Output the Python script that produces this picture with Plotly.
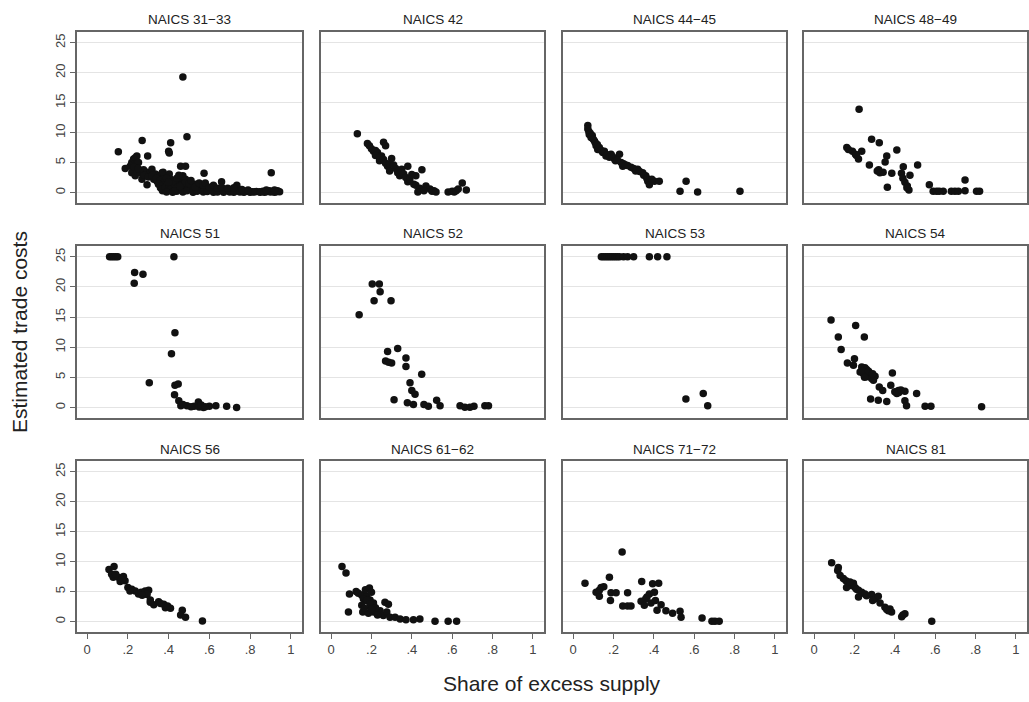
import plotly.graph_objects as go

W, H = 1029, 702

titles = ["NAICS 31\u221233", "NAICS 42", "NAICS 44\u221245", "NAICS 48\u221249",
          "NAICS 51", "NAICS 52", "NAICS 53", "NAICS 54",
          "NAICS 56", "NAICS 61\u221262", "NAICS 71\u221272", "NAICS 81"]

x_31_33 = [0.153,0.47,0.27,0.41,0.40,0.403,0.49,0.297,0.459,0.483,0.574,0.904,0.66,0.735,0.187,
           0.211,0.219,0.228,0.236,0.244,0.252,0.219,0.236,0.244,0.26,0.277,0.294,0.31,0.318,0.335,0.351,0.368,0.376,0.269,0.294,0.327,0.343,0.373,0.403,0.41,0.23,0.25,0.28,0.30,0.32,0.34,0.36,0.38,0.39,0.35,0.36,0.37,0.38,
           0.36,0.368,0.384,0.401,0.417,0.409,0.434,0.45,0.467,0.475,0.483,0.459,0.492,0.508,0.516,0.533,0.55,0.566,0.582,0.599,0.616,0.632,0.649,0.665,0.681,0.698,0.714,0.731,0.747,0.764,0.78,0.797,0.813,0.83,0.846,0.863,0.879,0.896,0.912,0.929,0.945,
           0.39,0.42,0.44,0.47,0.49,0.52,0.54,0.57,0.59,0.62,0.64,0.67,0.70,0.72,0.75,0.77,0.80,0.82,0.85,0.87,0.90,0.92,0.935,
           0.42,0.44,0.46,0.47,0.48,0.50,0.51,0.53,0.55,0.57,0.58,0.60,0.62,0.64,0.66,0.69,0.72,0.76,0.79,0.88,0.92,0.45,0.43,0.40,0.455]
y_31_33 = [6.8,19.3,8.7,8.3,6.9,6.6,9.3,6.1,4.4,4.4,3.2,3.3,1.8,1.2,4.0,
           4.4,5.0,5.6,5.8,6.1,5.0,3.3,2.8,3.6,3.3,3.8,3.4,3.3,3.9,3.1,2.8,3.3,2.5,2.2,1.3,2.2,1.9,3.4,3.1,2.2,4.2,4.0,2.9,2.6,2.9,2.4,2.0,1.8,2.4,1.4,0.8,0.3,1.3,
           1.1,0.56,0.83,1.1,1.4,0.56,1.1,1.7,1.9,1.4,2.2,0.56,0.83,0.56,1.1,1.4,0.83,0.56,1.1,0.56,0.83,0.44,0.56,0.28,0.44,0.28,0.56,0.28,0.28,0.17,0.22,0.17,0.11,0.17,0.11,0.22,0.11,0.28,0.17,0.11,0.11,
           0.1,0.05,0.2,0.1,0.3,0.05,0.2,0.1,0.15,0.05,0.1,0.05,0.1,0.05,0.1,0.05,0.05,0.1,0.05,0.05,0.1,0.05,0.3,
           1.8,2.4,1.2,2.8,1.6,1.5,2.0,0.9,1.6,1.2,1.6,0.9,1.2,0.7,0.9,0.7,0.8,0.5,0.4,0.4,0.4,2.9,0.3,1.7,1.0]

x_42 = [0.13,0.18,0.19,0.26,0.27,0.21,0.23,0.25,0.30,0.24,0.28,0.29,0.32,0.35,0.38,0.45,0.42,0.34,0.38,0.41,0.44,0.43,0.47,0.49,0.51,0.58,0.60,0.63,0.65,0.67,
        0.20,0.22,0.22,0.24,0.26,0.27,0.29,0.31,0.33,0.36,0.37,0.39,0.40,0.42,0.46,0.50,0.52,0.61,0.62]
y_42 = [9.8,8.2,7.8,8.4,7.8,6.9,6.7,6.1,5.7,5.3,4.4,3.6,4.0,3.9,4.4,3.8,2.8,2.8,1.8,1.4,0.7,0.1,1.1,0.6,0.3,0.1,0.2,0.6,1.6,0.4,
        7.3,7.0,6.2,5.8,5.5,4.9,4.8,4.6,3.3,3.1,2.5,2.2,3.0,1.2,0.3,0.2,0.1,0.1,0.3]

x_44_45 = [0.073,0.073,0.08,0.089,0.106,0.114,0.122,0.147,0.163,0.188,0.23,0.205,0.238,0.246,0.287,0.32,0.345,0.36,0.37,0.378,0.403,0.427,0.56,0.53,0.617,0.827,
           0.078,0.085,0.095,0.10,0.11,0.12,0.13,0.14,0.155,0.17,0.18,0.195,0.21,0.22,0.25,0.26,0.27,0.30,0.31,0.33,0.35,0.365,0.39]
y_44_45 = [11.2,10.6,9.7,9.2,8.6,7.8,7.2,6.7,6.1,6.4,6.4,5.6,5.0,4.4,4.2,3.9,3.3,2.8,1.9,1.3,1.9,1.9,1.9,0.2,0.1,0.2,
           10.2,9.9,9.5,8.9,8.3,8.0,7.5,7.0,6.9,6.3,5.9,6.0,5.3,5.4,4.8,4.6,4.5,4.0,3.6,3.5,2.9,2.4,2.2]

x_48_49 = [0.223,0.285,0.323,0.41,0.162,0.19,0.205,0.22,0.236,0.36,0.352,0.274,0.313,0.326,0.342,0.385,0.442,0.513,0.433,0.475,0.45,0.462,0.47,0.363,0.571,0.59,0.607,0.64,0.68,0.698,0.715,0.748,0.748,0.805,0.82,
           0.17,0.21,0.32,0.44,0.46,0.62]
y_48_49 = [13.9,8.9,8.3,7.1,7.5,6.9,6.4,5.6,6.9,6.1,5.1,4.6,3.6,3.3,3.4,3.2,4.3,4.6,3.2,2.9,1.7,1.1,0.4,0.9,1.3,0.2,0.2,0.2,0.2,0.2,0.2,2.1,0.3,0.2,0.2,
           7.2,6.2,3.8,2.4,0.8,0.2]

x_51 = [0.11,0.12,0.13,0.14,0.15,0.426,0.233,0.274,0.231,0.431,0.414,0.305,0.431,0.447,0.429,0.45,0.46,0.49,0.525,0.546,0.55,0.571,0.60,0.632,0.685,0.734,0.47,0.51,0.56,0.58]
y_51 = [25,25,25,25,25,25,22.4,22.1,20.6,12.4,8.9,4.1,3.7,3.9,2.1,1.1,0.3,0.3,0.2,0.9,0.06,0.0,0.2,0.3,0.2,0.0,0.5,0.1,0.4,0.1]

x_52 = [0.204,0.239,0.243,0.213,0.297,0.139,0.28,0.33,0.371,0.27,0.30,0.371,0.449,0.391,0.40,0.416,0.312,0.378,0.408,0.46,0.482,0.523,0.54,0.639,0.663,0.688,0.708,0.762,0.78,0.285]
y_52 = [20.5,20.5,19.2,17.7,17.7,15.4,9.3,9.8,8.2,7.7,7.4,6.8,5.5,4.1,2.8,2.2,1.3,0.8,0.5,0.5,0.2,1.2,0.3,0.3,0.05,0.05,0.2,0.3,0.3,7.5]

x_53 = [0.14,0.15,0.16,0.17,0.18,0.19,0.20,0.21,0.22,0.23,0.25,0.27,0.30,0.378,0.419,0.465,0.559,0.645,0.667]
y_53 = [25,25,25,25,25,25,25,25,25,25,25,25,25,25,25,25,1.4,2.3,0.3]

x_54 = [0.084,0.206,0.12,0.249,0.134,0.2,0.165,0.195,0.236,0.252,0.26,0.228,0.244,0.269,0.285,0.302,0.26,0.285,0.294,0.388,0.323,0.34,0.38,0.40,0.418,0.41,0.45,0.508,0.28,0.318,0.36,0.45,0.458,0.55,0.579,0.83,
        0.24,0.27,0.29,0.25,0.42,0.43]
y_54 = [14.5,13.6,11.7,11.7,9.6,8.1,7.4,7.0,6.7,6.6,6.3,5.9,5.6,5.6,5.3,5.2,5.1,4.8,4.5,5.7,3.4,2.8,3.7,2.6,2.8,2.3,2.7,2.3,1.4,1.2,1.0,1.1,0.3,0.2,0.2,0.1,
        6.0,6.0,5.6,5.0,2.5,2.9]

x_56 = [0.107,0.132,0.12,0.128,0.153,0.178,0.162,0.186,0.2,0.219,0.236,0.252,0.265,0.285,0.302,0.294,0.31,0.327,0.351,0.376,0.384,0.409,0.467,0.459,0.483,0.566,
        0.14,0.17,0.21,0.27,0.31,0.36,0.395]
y_56 = [8.7,9.2,7.9,7.4,7.4,7.5,6.7,6.8,5.7,5.4,5.1,4.6,4.9,5.1,5.2,4.5,3.2,2.8,3.3,2.9,2.3,2.2,1.9,1.1,0.7,0.1,
        7.9,7.0,5.1,4.4,3.6,3.0,2.6]

x_61_62 = [0.054,0.074,0.091,0.086,0.124,0.135,0.152,0.177,0.193,0.21,0.16,0.176,0.193,0.152,0.157,0.185,0.21,0.243,0.259,0.276,0.292,0.317,0.342,0.371,0.408,0.44,0.515,0.58,0.622,0.267,0.284,
           0.17,0.19,0.20,0.22,0.23,0.165,0.2]
y_61_62 = [9.2,8.1,4.6,1.6,5.0,4.7,4.4,4.2,3.6,3.1,3.8,3.5,2.9,2.7,1.6,1.4,1.6,1.8,1.0,1.6,0.7,0.7,0.4,0.3,0.3,0.4,0.06,0.06,0.06,3.2,2.9,
           5.3,5.6,4.9,2.3,1.1,2.2,2.1]

x_71_72 = [0.059,0.18,0.243,0.114,0.13,0.139,0.152,0.188,0.213,0.185,0.246,0.27,0.287,0.27,0.34,0.394,0.424,0.337,0.353,0.366,0.378,0.386,0.403,0.408,0.436,0.416,0.46,0.493,0.53,0.535,0.639,0.688,0.703,0.724,
           0.13,0.36]
y_71_72 = [6.4,7.4,11.6,4.9,4.2,5.7,5.8,4.8,4.8,3.5,2.6,2.6,2.6,4.8,6.7,6.3,6.4,3.4,2.7,4.1,4.6,3.1,4.9,3.5,2.8,1.9,1.8,1.4,1.7,0.7,0.6,0.06,0.06,0.06,
           5.2,3.8]

x_81 = [0.087,0.117,0.129,0.145,0.158,0.17,0.183,0.195,0.203,0.22,0.236,0.252,0.22,0.285,0.302,0.318,0.327,0.351,0.368,0.376,0.384,0.434,0.45,0.583,0.161,0.178,
        0.12,0.21,0.26,0.29,0.36,0.44]
y_81 = [9.8,8.5,7.7,7.2,6.8,6.3,6.0,6.4,5.7,5.2,4.9,4.6,4.1,4.5,3.8,4.2,3.1,2.4,1.8,2.1,1.6,0.8,1.3,0.06,5.7,6.6,
        9.0,5.4,4.3,3.5,2.0,1.1]

xs = [x_31_33, x_42, x_44_45, x_48_49, x_51, x_52, x_53, x_54, x_56, x_61_62, x_71_72, x_81]
ys = [y_31_33, y_42, y_44_45, y_48_49, y_51, y_52, y_53, y_54, y_56, y_61_62, y_71_72, y_81]

x_tickvals = [0, 0.2, 0.4, 0.6, 0.8, 1]
x_ticktext = ["0", ".2", ".4", ".6", ".8", "1"]
y_tickvals = [0, 5, 10, 15, 20, 25]

col_px = [(77, 302), (321, 544), (563, 786), (804, 1027)]
row_px = [(32, 203), (246, 418), (461, 632)]

FONT = "Liberation Sans, Arial, sans-serif"
fig = go.Figure()
layout = dict(
    width=W, height=H, margin=dict(l=0, r=0, t=0, b=0),
    paper_bgcolor="white", plot_bgcolor="white", showlegend=False,
    font=dict(family=FONT, color="#333"),
)
annotations = []
for i in range(12):
    r, c = divmod(i, 4)
    n = "" if i == 0 else str(i + 1)
    xl, xr = col_px[c]
    yt, yb = row_px[r]
    fig.add_trace(go.Scatter(
        x=xs[i], y=ys[i], mode="markers", xaxis="x" + n, yaxis="y" + n,
        marker=dict(size=7.5, color="#111111", line=dict(width=0)),
        hoverinfo="skip"))
    layout["xaxis" + n] = dict(
        domain=[xl / W, xr / W], anchor="y" + n, range=[-0.05, 1.055],
        showgrid=False, zeroline=False, showline=True, mirror=True,
        linecolor="#666", linewidth=1.5,
        tickvals=x_tickvals, ticktext=x_ticktext,
        showticklabels=(r == 2), ticks="outside" if r == 2 else "",
        ticklen=5, tickcolor="#666", tickfont=dict(size=13, color="#444", family=FONT),
    )
    layout["yaxis" + n] = dict(
        domain=[1 - yb / H, 1 - yt / H], anchor="x" + n, range=[-1.75, 26.8],
        showgrid=True, gridcolor="#e4e4e4", gridwidth=1, zeroline=False,
        showline=True, mirror=True, linecolor="#666", linewidth=1.5,
        tickvals=y_tickvals, showticklabels=(c == 0),
        ticks="outside" if c == 0 else "", ticklen=5, tickcolor="#666",
        tickangle=-90, tickfont=dict(size=13, color="#444", family=FONT),
    )
    annotations.append(dict(
        text=titles[i], x=(xl + xr) / 2 / W, y=1 - (yt - 12) / H,
        xref="paper", yref="paper", showarrow=False,
        xanchor="center", yanchor="middle",
        font=dict(size=13.5, color="#222", family=FONT)))

annotations.append(dict(text="Share of excess supply", x=552 / W, y=1 - 683 / H,
                        xref="paper", yref="paper", showarrow=False,
                        xanchor="center", yanchor="middle",
                        font=dict(size=21, color="#222", family=FONT)))
annotations.append(dict(text="Estimated trade costs", x=20 / W, y=1 - 332 / H,
                        xref="paper", yref="paper", showarrow=False, textangle=-90,
                        xanchor="center", yanchor="middle",
                        font=dict(size=21, color="#222", family=FONT)))
layout["annotations"] = annotations
fig.update_layout(**layout)
fig.write_html("out.html", config={"displayModeBar": False},
               post_script="document.body.style.margin='0px';")
